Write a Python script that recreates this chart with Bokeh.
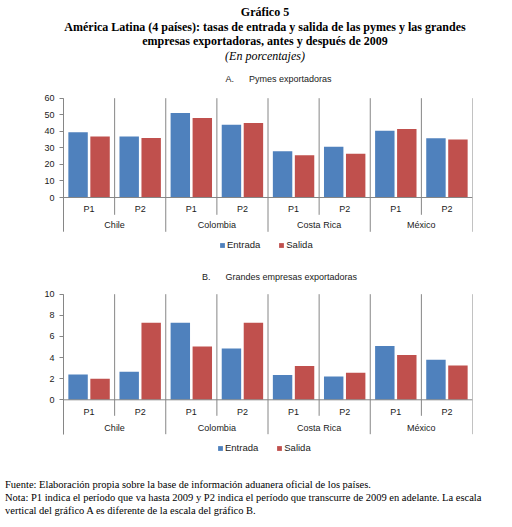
from bokeh.plotting import figure
from bokeh.models import (FactorRange, Range1d, Legend, LegendItem, Div,
                          ColumnDataSource, FixedTicker)
from bokeh.layouts import column
from bokeh.transform import dodge
from bokeh.embed import file_html
from bokeh.resources import INLINE
from bokeh.core.properties import value

# ---------------- data ----------------
countries = ["Chile", "Colombia", "Costa Rica", "México"]
periods = ["P1", "P2"]
series_names = ["Entrada", "Salida"]

pymes_entrada = [39.5, 36.8, 51.0, 44.0, 28.0, 30.7, 40.4, 35.8]
pymes_salida = [36.8, 36.0, 48.0, 45.0, 25.5, 26.5, 41.4, 35.0]
grandes_entrada = [2.4, 2.65, 7.3, 4.85, 2.35, 2.2, 5.1, 3.8]
grandes_salida = [2.0, 7.3, 5.05, 7.3, 3.2, 2.55, 4.25, 3.25]

pymes_ticks = [0, 10, 20, 30, 40, 50, 60]
grandes_ticks = [0, 2, 4, 6, 8, 10]

title_a = "A.\u00a0\u00a0\u00a0\u00a0\u00a0 Pymes exportadoras"
title_b = "B.\u00a0\u00a0\u00a0\u00a0\u00a0 Grandes empresas exportadoras"

BLUE = "#4F81BD"
RED = "#C0504D"
GRAY = "#868686"
TXT = "#1a1a1a"
SANS = "Liberation Sans"
SERIF = "Liberation Serif"


def make_chart(title, entrada, salida, ticks, fig_top, fig_h, zero_page, ppu,
               title_page, title_dx, inner_page, group_page, legend_pos):
    """All *_page values are vertical page positions (pixels) used for layout."""
    factors = [(c, p) for c in countries for p in periods]
    src = ColumnDataSource(dict(x=factors, entrada=entrada, salida=salida))
    xr = FactorRange(*factors, factor_padding=0, group_padding=0,
                     subgroup_padding=0, range_padding=0)
    b_top, b_bot = 2, 2
    frame_top = fig_top + b_top
    frame_bot = fig_top + fig_h - b_bot

    def to_y(page):
        return (zero_page - page) / ppu

    y_end = to_y(frame_top)
    y_start = to_y(frame_bot)
    p = figure(x_range=xr, y_range=Range1d(y_start, y_end),
               frame_width=409, frame_height=fig_h - b_top - b_bot,
               min_border_left=63, min_border_right=24,
               min_border_top=b_top, min_border_bottom=b_bot,
               output_backend="svg", toolbar_location=None)
    top_val = ticks[-1]
    group_bottom = to_y(group_page)

    # separators
    n_per = len(periods)
    inner_x = [n_per * i + 1 for i in range(len(countries))]
    group_x = [n_per * i for i in range(len(countries) + 1)]
    p.segment(x0=inner_x, x1=inner_x, y0=[top_val] * len(inner_x),
              y1=[to_y(inner_page)] * len(inner_x), line_color=GRAY,
              line_width=1)
    p.segment(x0=group_x, x1=group_x, y0=[top_val] * len(group_x),
              y1=[group_bottom] * len(group_x), line_color=GRAY, line_width=1)

    r1 = p.vbar(x=dodge("x", -0.215, range=xr), top="entrada", width=0.38,
                bottom=0, source=src, fill_color=BLUE, line_color=None)
    r2 = p.vbar(x=dodge("x", 0.215, range=xr), top="salida", width=0.38,
                bottom=0, source=src, fill_color=RED, line_color=None)

    p.segment(x0=[group_x[0]], x1=[group_x[-1]], y0=[0], y1=[0],
              line_color=GRAY, line_width=1)

    # subtitle
    p.text(x=[len(factors) / 2], y=[0], text=[title],
           y_offset=title_page - zero_page, x_offset=title_dx,
           text_align="center", text_baseline="middle",
           text_font=value(SANS), text_font_size="9px", text_color=TXT)

    # category labels
    p.text(x=factors, y=[0] * len(factors),
           text=[f[1] for f in factors], y_offset=11.7,
           text_align="center", text_baseline="middle",
           text_font=value(SANS), text_font_size="9px", text_color=TXT)
    p.text(x=countries, y=[0] * len(countries), text=countries, y_offset=27.7,
           text_align="center", text_baseline="middle",
           text_font=value(SANS), text_font_size="9px", text_color=TXT)

    p.xaxis.visible = False
    p.xgrid.visible = False
    p.ygrid.visible = False
    p.outline_line_color = None

    ax = p.yaxis[0]
    ax.ticker = FixedTicker(ticks=ticks)
    ax.bounds = (group_bottom, top_val)
    ax.axis_line_color = GRAY
    ax.major_tick_line_color = GRAY
    ax.major_tick_out = 4
    ax.major_tick_in = 0
    ax.minor_tick_line_color = None
    ax.major_label_standoff = 5
    ax.major_label_text_font = SANS
    ax.major_label_text_font_size = "9px"
    ax.major_label_text_color = TXT

    legend = Legend(items=[LegendItem(label=series_names[0], renderers=[r1]),
                           LegendItem(label=series_names[1], renderers=[r2])],
                    orientation="horizontal", location=legend_pos)
    legend.glyph_width = 6
    legend.glyph_height = 6
    legend.label_text_font = SANS
    legend.label_text_font_size = "9.5px"
    legend.label_text_color = TXT
    legend.label_standoff = 2
    legend.label_height = 8
    legend.spacing = 18
    legend.padding = 0
    legend.margin = 0
    legend.border_line_color = None
    legend.background_fill_alpha = 0
    p.add_layout(legend, "center")
    return p


header = Div(text=(
    f'<div style="font-family:\'{SERIF}\';text-align:center;padding-left:24px;'
    'box-sizing:border-box;width:496px;color:#000;line-height:14.5px;'
    'font-size:12px;white-space:nowrap;">'
    '<div style="font-weight:bold;">Gráfico 5</div>'
    '<div style="font-weight:bold;">América Latina (4 países): tasas de entrada y salida de las pymes y las grandes</div>'
    '<div style="font-weight:bold;">empresas exportadoras, antes y después de 2009</div>'
    '<div style="font-style:italic;">(En porcentajes)</div>'
    '</div>'), width=496, height=58)

chart_a = make_chart(title_a, pymes_entrada, pymes_salida, pymes_ticks,
                     fig_top=66, fig_h=190, zero_page=195, ppu=1.655,
                     title_page=76, title_dx=10.5, inner_page=212.3,
                     group_page=229.3, legend_pos=(156, 6))
chart_b = make_chart(title_b, grandes_entrada, grandes_salida, grandes_ticks,
                     fig_top=256, fig_h=201, zero_page=397.3, ppu=10.56,
                     title_page=274.3, title_dx=11.5, inner_page=413.3,
                     group_page=431.7, legend_pos=(154, 4))

footer = Div(text=(
    f'<div style="font-family:\'{SERIF}\';color:#000;font-size:10.5px;'
    'line-height:13px;padding-top:14px;white-space:nowrap;">'
    'Fuente: Elaboración propia sobre la base de información aduanera oficial de los países.<br>'
    'Nota: P1 indica el período que va hasta 2009 y P2 indica el período que transcurre de 2009 en adelante. La escala<br>'
    'vertical del gráfico A es diferente de la escala del gráfico B.'
    '</div>'), width=496, height=62)

layout = column(header, chart_a, chart_b, footer, spacing=0)

open("out.html", "w").write(file_html(layout, INLINE))
